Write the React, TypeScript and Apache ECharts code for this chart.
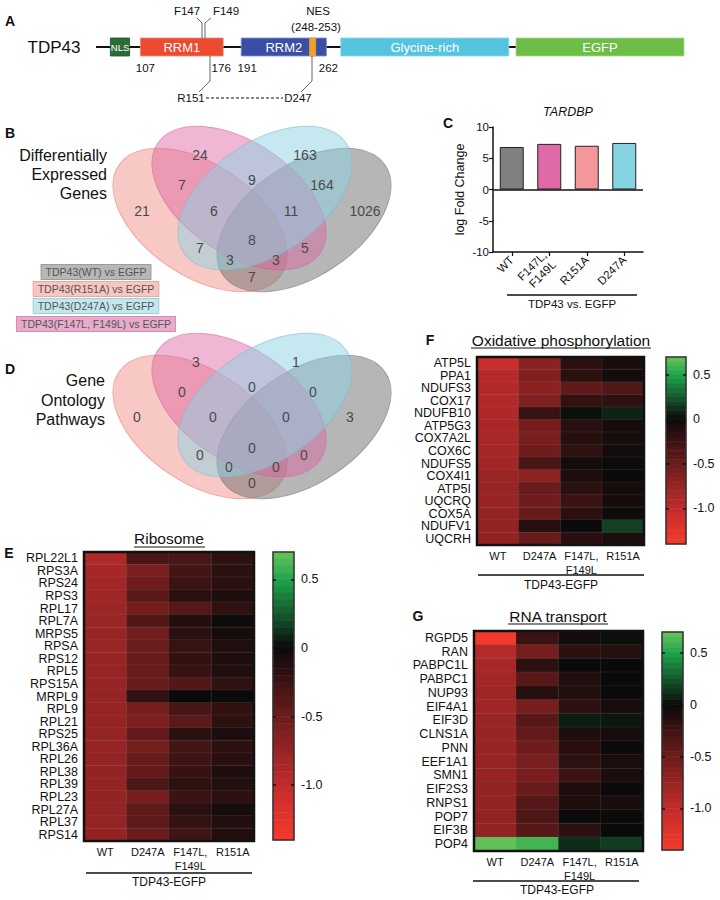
import React, { useEffect, useRef } from 'react';
import * as echarts from 'echarts';

const FONT = '"Liberation Sans", Arial, Helvetica, sans-serif';

// ---------------- Panel A : TDP43 domain map (residue units) ----------------
const DOMAIN_NAMES = ['NLS', 'RRM1', 'RRM2', '', 'Glycine-rich', 'EGFP'];
const DOMAIN_START = [82, 107, 191, 248, 274, 420];
const DOMAIN_END = [98, 176, 262, 253, 414, 560];
const BOUNDARY_LABELS = [107, 176, 191, 262];
const BACKBONE = [70, 560];

// ---------------- Panel B / D : Venn counts ----------------
const VENN_SETS = ['TDP43(WT) vs EGFP', 'TDP43(R151A) vs EGFP', 'TDP43(D247A) vs EGFP', 'TDP43(F147L, F149L) vs EGFP'];
const VENN_B_COUNTS = [21, 24, 163, 1026, 7, 9, 164, 6, 11, 8, 7, 5, 3, 3, 7];
const VENN_D_COUNTS = [0, 3, 1, 3, 0, 0, 0, 0, 0, 0, 0, 0, 0, 0, 0];

// ---------------- Panel C : TARDBP log fold change ----------------
const C_CATEGORIES = ['WT', 'F147L,\nF149L', 'R151A', 'D247A'];
const C_VALUES = [6.8, 7.3, 7.0, 7.45];

// ---------------- Heatmaps ----------------
const HM_COLUMNS = ['WT', 'D247A', 'F147L,\nF149L', 'R151A'];

const E_GENES = ['RPL22L1', 'RPS3A', 'RPS24', 'RPS3', 'RPL17', 'RPL7A', 'MRPS5', 'RPSA', 'RPS12', 'RPL5', 'RPS15A', 'MRPL9', 'RPL9', 'RPL21', 'RPS25', 'RPL36A', 'RPL26', 'RPL38', 'RPL39', 'RPL23', 'RPL27A', 'RPL37', 'RPS14'];
const E_WT = [-0.9, -0.84, -0.82, -0.81, -0.79, -0.77, -0.76, -0.76, -0.76, -0.75, -0.75, -0.75, -0.75, -0.75, -0.74, -0.75, -0.74, -0.74, -0.74, -0.74, -0.74, -0.74, -0.73];
const E_D247A = [-0.32, -0.59, -0.51, -0.42, -0.56, -0.36, -0.53, -0.49, -0.48, -0.48, -0.49, -0.2, -0.575, -0.59, -0.46, -0.55, -0.49, -0.46, -0.33, -0.575, -0.43, -0.42, -0.49];
const E_F147L = [-0.32, -0.29, -0.25, -0.17, -0.4, -0.13, -0.17, -0.23, -0.21, -0.23, -0.37, 0.0, -0.32, -0.42, -0.17, -0.29, -0.27, -0.23, -0.18, -0.25, -0.17, -0.22, -0.27];
const E_R151A = [-0.18, -0.17, -0.17, -0.11, -0.19, -0.02, -0.06, -0.1, -0.1, -0.11, -0.19, 0.0, -0.21, -0.18, -0.09, -0.18, -0.16, -0.1, -0.13, -0.17, -0.06, -0.12, -0.12];

const F_GENES = ['ATP5L', 'PPA1', 'NDUFS3', 'COX17', 'NDUFB10', 'ATP5G3', 'COX7A2L', 'COX6C', 'NDUFS5', 'COX4I1', 'ATP5I', 'UQCRQ', 'COX5A', 'NDUFV1', 'UQCRH'];
const F_WT = [-1.07, -0.94, -0.93, -0.92, -0.9, -0.86, -0.85, -0.84, -0.82, -0.77, -0.76, -0.76, -0.75, -0.73, -0.73];
const F_D247A = [-0.675, -0.61, -0.675, -0.625, -0.24, -0.56, -0.575, -0.51, -0.32, -0.69, -0.49, -0.51, -0.48, -0.14, -0.48];
const F_F147L = [-0.17, -0.17, -0.44, -0.21, 0.02, -0.16, -0.14, -0.19, -0.05, -0.1, -0.17, -0.25, -0.17, 0.0, -0.16];
const F_R151A = [-0.08, -0.05, -0.35, -0.19, 0.08, -0.07, -0.07, -0.04, -0.01, -0.01, -0.06, -0.06, -0.02, 0.17, -0.09];

const G_GENES = ['RGPD5', 'RAN', 'PABPC1L', 'PABPC1', 'NUP93', 'EIF4A1', 'EIF3D', 'CLNS1A', 'PNN', 'EEF1A1', 'SMN1', 'EIF2S3', 'RNPS1', 'POP7', 'EIF3B', 'POP4'];
const G_WT = [-1.38, -0.94, -0.85, -0.82, -0.81, -0.8, -0.77, -0.76, -0.76, -0.75, -0.75, -0.73, -0.73, -0.73, -0.72, 0.68];
const G_D247A = [-0.24, -0.56, -0.18, -0.4, -0.14, -0.575, -0.4, -0.46, -0.51, -0.575, -0.575, -0.49, -0.38, -0.34, -0.4, 0.6];
const G_F147L = [-0.05, -0.18, 0.0, -0.11, -0.13, -0.18, 0.06, -0.1, -0.16, -0.18, -0.25, -0.11, -0.11, 0.0, -0.18, 0.11];
const G_R151A = [0.02, -0.14, 0.0, 0.0, 0.0, -0.07, 0.04, -0.07, -0.01, -0.08, -0.08, -0.01, -0.08, -0.01, 0.0, 0.16];

const COLORBAR_LEVELS = [0.675, 0.625, 0.575, 0.525, 0.475, 0.425, 0.375, 0.325, 0.275, 0.225, 0.175, 0.125, 0.075, 0.025, -0.025, -0.075, -0.125, -0.175, -0.225, -0.275, -0.325, -0.375, -0.425, -0.475, -0.525, -0.575, -0.625, -0.675, -0.725, -0.775, -0.825, -0.875, -0.925, -0.975, -1.025, -1.075, -1.125, -1.175, -1.225, -1.275, -1.325, -1.375];
const COLORBAR_TICKS = [0.5, 0, -0.5, -1.0];
const SCALE_MIN = -1.4;
const SCALE_MAX = 0.7;

// ---------------- styles ----------------
const DOMAIN_COLORS = ['#2b6b35', '#ec4a31', '#3b4ea6', '#f2a02a', '#55c4df', '#6dbd47'];
const DOMAIN_EDGES = ['#1f5228', '#f08a78', '#7f8fd0', '#f2a02a', '#8ad6e8', '#a5d98a'];
const BOUNDARY_OFFSETS = [5, -2, 6, 2];
const C_COLORS = ['#808080', '#e06aa8', '#f4979b', '#86d3e2'];

const CMAP_STOPS: [number, number[]][] = [
  [-1.4, [245, 58, 44]],
  [-1.0, [192, 44, 44]],
  [-0.5, [108, 28, 28]],
  [0.0, [10, 10, 10]],
  [0.25, [20, 90, 45]],
  [0.5, [30, 165, 75]],
  [0.7, [105, 195, 90]],
];
function colorAt(v: number): string {
  for (let i = 0; i < CMAP_STOPS.length - 1; i++) {
    const [a, ca] = CMAP_STOPS[i];
    const [b, cb] = CMAP_STOPS[i + 1];
    if (v <= b || i === CMAP_STOPS.length - 2) {
      const t = Math.max(0, Math.min(1, (v - a) / (b - a)));
      const c = ca.map((x, k) => Math.round(x + (cb[k] - x) * t));
      return `rgb(${c[0]},${c[1]},${c[2]})`;
    }
  }
  return '#000';
}
const CMAP_COLORS = Array.from({ length: 43 }, (_, k) => colorAt(SCALE_MIN + k * 0.05));

// Venn geometry (pixels)
const ELLIPSE_RX = 98;
const ELLIPSE_RY = 56;
const ELLIPSE_GEOM = [
  { cx: 200, cy: 220, ang: -34, fill: 'rgba(240,135,125,0.45)', stroke: 'rgba(225,120,110,0.55)' }, // R151A
  { cx: 304, cy: 220, ang: 34, fill: 'rgba(110,110,110,0.5)', stroke: 'rgba(110,110,110,0.55)' }, // WT
  { cx: 239, cy: 198, ang: -34, fill: 'rgba(222,95,160,0.45)', stroke: 'rgba(210,90,150,0.5)' }, // F147L
  { cx: 265, cy: 198, ang: 34, fill: 'rgba(140,210,228,0.5)', stroke: 'rgba(120,190,210,0.6)' }, // D247A
];
const VENN_B_POS = [[142, 211], [200, 155], [305, 155], [365, 211], [182, 185], [252, 180], [322, 185], [214, 211], [291, 211], [252, 240], [200, 248], [305, 248], [230, 260], [276, 260], [252, 277]];
const VENN_D_POS = [[137, 417], [196, 362], [296, 362], [350, 417], [182, 392], [252, 387], [313, 392], [213, 417], [286, 417], [252, 448], [200, 455], [304, 455], [229, 467], [276, 467], [252, 483]];
const VENN_D_SHIFT = 207;
const LEGEND_BOXES = [
  { y: 272, bg: '#b7b7b7', border: '#9d9d9d' },
  { y: 289, bg: '#f7c6c2', border: '#eaa9a3' },
  { y: 306, bg: '#c3e7ef', border: '#9fd1dd' },
  { y: 324, bg: '#e9abcc', border: '#d98ab6' },
];

function text(t: string, x: number, y: number, o: any = {}) {
  const size = o.size || 12;
  return {
    type: 'text',
    x,
    y,
    z: o.z || 20,
    style: {
      text: t,
      font: `${o.italic ? 'italic ' : ''}${o.bold ? 'bold ' : ''}${size}px ${FONT}`,
      fill: o.color || '#111',
      align: o.align || 'center',
      textAlign: o.align || 'center',
      verticalAlign: 'middle',
      textVerticalAlign: 'middle',
      lineHeight: o.lineHeight,
      ...(o.extra || {}),
    },
  };
}
function line(x1: number, y1: number, x2: number, y2: number, o: any = {}) {
  return {
    type: 'line',
    z: 20,
    shape: { x1, y1, x2, y2 },
    style: { stroke: o.color || '#111', lineWidth: o.width || 1.5, lineDash: o.dash },
  };
}
function polyline(points: number[][], o: any = {}) {
  return { type: 'polyline', z: 20, shape: { points }, style: { stroke: o.color || '#555', lineWidth: o.width || 0.9, fill: 'none' } };
}

function buildOption() {
  const grid: any[] = [];
  const xAxis: any[] = [];
  const yAxis: any[] = [];
  const series: any[] = [];
  const graphic: any[] = [];
  const hmSeries: number[] = [];

  // ---------- Panel A ----------
  {
    const gi = grid.length;
    grid.push({ left: 0, top: 20, width: 720, height: 54, show: false });
    const xi = xAxis.length;
    xAxis.push({ gridIndex: gi, type: 'value', min: -10, max: 590, show: false });
    const yi = yAxis.length;
    yAxis.push({ gridIndex: gi, type: 'value', min: -1, max: 1, show: false });
    series.push({
      type: 'line', xAxisIndex: xi, yAxisIndex: yi, silent: true, z: 1,
      data: BACKBONE.map((v) => [v, 0]), symbol: 'none', lineStyle: { color: '#111', width: 2 },
    });
    series.push({
      type: 'custom', xAxisIndex: xi, yAxisIndex: yi, silent: true, z: 3,
      data: DOMAIN_START.map((s, i) => [s, DOMAIN_END[i], i]),
      renderItem: (_p: any, api: any) => {
        const i = api.value(2);
        const a = api.coord([api.value(0), 0]);
        const b = api.coord([api.value(1), 0]);
        const name = DOMAIN_NAMES[i];
        const el: any = {
          type: 'rect',
          shape: { x: a[0], y: a[1] - 9, width: b[0] - a[0], height: 18 },
          style: { fill: DOMAIN_COLORS[i], stroke: DOMAIN_EDGES[i], lineWidth: 0.8 },
        };
        if (name) {
          el.textContent = { style: { text: name, fill: '#fff', font: `${name === 'NLS' ? 9.5 : 13}px ${FONT}` } };
          el.textConfig = { position: 'inside' };
        }
        return el;
      },
    });
    series.push({
      type: 'custom', xAxisIndex: xi, yAxisIndex: yi, silent: true, z: 3,
      data: BOUNDARY_LABELS.map((v, i) => [v, i]),
      renderItem: (_p: any, api: any) => {
        const c = api.coord([api.value(0), 0]);
        return {
          type: 'text', x: c[0] + BOUNDARY_OFFSETS[api.value(1)], y: c[1] + 21,
          style: { text: String(api.value(0)), font: `11.5px ${FONT}`, fill: '#111', align: 'center', verticalAlign: 'middle' },
        };
      },
    });
    graphic.push(text('A', 10, 21, { bold: true, size: 14 }));
    graphic.push(text('TDP43', 54, 47, { size: 17 }));
    graphic.push(text('F147', 187, 11, { size: 11.5 }));
    graphic.push(text('F149', 226, 11, { size: 11.5 }));
    graphic.push(polyline([[202, 38], [202, 23], [197, 18]]));
    graphic.push(polyline([[205, 38], [205, 23], [211, 18]]));
    graphic.push(text('NES', 318, 11, { size: 11.5 }));
    graphic.push(text('(248-253)', 316, 27, { size: 11.5 }));
    graphic.push(polyline([[210, 56], [210, 81], [199, 92]]));
    graphic.push(polyline([[312, 56], [312, 81], [301, 92]]));
    graphic.push(text('R151', 191, 98, { size: 11.5 }));
    graphic.push(text('D247', 298, 98, { size: 11.5 }));
    graphic.push(line(206, 98, 283, 98, { width: 1.2, dash: [3, 2] }));
  }

  // ---------- Venn diagrams (B, D) ----------
  const drawVenn = (dy: number) => {
    ELLIPSE_GEOM.forEach((g) => {
      graphic.push({
        type: 'ellipse', x: g.cx, y: g.cy + dy, rotation: (g.ang * Math.PI) / 180, z: 5,
        shape: { cx: 0, cy: 0, rx: ELLIPSE_RX, ry: ELLIPSE_RY },
        style: { fill: g.fill, stroke: g.stroke, lineWidth: 1 },
      });
    });
  };
  drawVenn(0);
  drawVenn(VENN_D_SHIFT);
  VENN_B_COUNTS.forEach((c, i) => graphic.push(text(String(c), VENN_B_POS[i][0], VENN_B_POS[i][1], { size: 14, color: '#4a4a4a' })));
  VENN_D_COUNTS.forEach((c, i) => graphic.push(text(String(c), VENN_D_POS[i][0], VENN_D_POS[i][1], { size: 14, color: '#4a4a4a' })));
  graphic.push(text('B', 10, 133, { bold: true, size: 14 }));
  graphic.push(text('Differentially\nExpressed\nGenes', 107, 174, { size: 16, align: 'right', lineHeight: 19 }));
  graphic.push(text('D', 10, 369, { bold: true, size: 14 }));
  graphic.push(text('Gene\nOntology\nPathways', 105, 400, { size: 16, align: 'right', lineHeight: 19.5 }));
  VENN_SETS.forEach((s, i) => {
    const b = LEGEND_BOXES[i];
    graphic.push(text(s, 96, b.y, {
      size: 10.5, color: '#555',
      extra: { backgroundColor: b.bg, borderColor: b.border, borderWidth: 1, padding: [2, 4, 1, 4] },
    }));
  });

  // ---------- Panel C ----------
  {
    const gi = grid.length;
    grid.push({ left: 493, top: 127, width: 150, height: 125, show: false });
    const xi = xAxis.length;
    xAxis.push({
      gridIndex: gi, type: 'category', data: C_CATEGORIES,
      axisLine: { onZero: false, lineStyle: { color: '#111', width: 1.5 } },
      axisTick: { show: true, alignWithLabel: true, length: 4, lineStyle: { color: '#111', width: 1.2 } },
      axisLabel: { rotate: 45, fontSize: 11.5, color: '#111', fontFamily: FONT, margin: 6, lineHeight: 13, interval: 0 },
    });
    const yi = yAxis.length;
    yAxis.push({
      gridIndex: gi, type: 'value', min: -10, max: 10, interval: 5,
      axisLine: { show: true, lineStyle: { color: '#111', width: 1.5 } },
      axisTick: { show: true, length: 4, lineStyle: { color: '#111', width: 1.2 } },
      splitLine: { show: false },
      axisLabel: { fontSize: 11.5, color: '#111', margin: 4, fontFamily: FONT },
      name: 'log Fold Change', nameLocation: 'middle', nameGap: 27,
      nameTextStyle: { fontSize: 12.5, color: '#111', fontFamily: FONT },
    });
    series.push({
      type: 'bar', xAxisIndex: xi, yAxisIndex: yi, silent: true,
      data: C_VALUES.map((v, i) => ({ value: v, itemStyle: { color: C_COLORS[i] } })),
      barWidth: 24, itemStyle: { borderColor: '#222', borderWidth: 1 },
      markLine: { silent: true, symbol: 'none', label: { show: false }, lineStyle: { color: '#111', width: 1.5, type: 'solid' }, data: [{ yAxis: 0 }] },
    });
    graphic.push(text('C', 448, 123, { bold: true, size: 14 }));
    graphic.push(text('TARDBP', 568, 112, { size: 12.5, italic: true }));
    graphic.push(line(507, 295, 637, 295, { width: 1.5 }));
    graphic.push(text('TDP43 vs. EGFP', 572, 304, { size: 11.5 }));
  }

  // ---------- heatmaps ----------
  const addHeatmap = (box: number[], genes: string[], cols: number[][]) => {
    const gi = grid.length;
    grid.push({ left: box[0], top: box[1], width: box[2], height: box[3], show: true, borderColor: '#111', borderWidth: 2.5, backgroundColor: 'transparent', z: 10 });
    const xi = xAxis.length;
    xAxis.push({
      gridIndex: gi, type: 'category', data: HM_COLUMNS, position: 'bottom',
      axisLine: { show: false }, axisTick: { show: false }, splitLine: { show: false },
      axisLabel: { fontSize: 11, color: '#111', fontFamily: FONT, margin: 4, lineHeight: 14, interval: 0 },
    });
    const yi = yAxis.length;
    yAxis.push({
      gridIndex: gi, type: 'category', data: genes, inverse: true,
      axisLine: { show: false }, axisTick: { show: false }, splitLine: { show: false },
      axisLabel: { fontSize: 12.5, color: '#111', fontFamily: FONT, margin: 6, interval: 0 },
    });
    const data: number[][] = [];
    genes.forEach((_g, i) => cols.forEach((col, j) => data.push([j, i, col[i]])));
    hmSeries.push(series.length);
    series.push({
      type: 'heatmap', xAxisIndex: xi, yAxisIndex: yi, data, silent: true,
      itemStyle: { borderColor: 'rgba(150,150,150,0.22)', borderWidth: 0.6 },
    });
  };
  const addColorbar = (box: number[]) => {
    const gi = grid.length;
    grid.push({ left: box[0], top: box[1], width: box[2], height: box[3], show: true, borderColor: '#333', borderWidth: 1.5, backgroundColor: 'transparent', z: 10 });
    const xi = xAxis.length;
    xAxis.push({ gridIndex: gi, type: 'category', data: ['scale'], show: false });
    const yi = yAxis.length;
    yAxis.push({ gridIndex: gi, type: 'category', data: COLORBAR_LEVELS.map(String), inverse: true, show: false });
    const tickCommon = { show: true, inside: true, length: 3, lineStyle: { color: '#111', width: 1.5 }, customValues: COLORBAR_TICKS };
    yAxis.push({
      gridIndex: gi, type: 'value', min: SCALE_MIN, max: SCALE_MAX, position: 'right', z: 12,
      axisLine: { show: false }, splitLine: { show: false }, axisTick: tickCommon,
      axisLabel: {
        customValues: COLORBAR_TICKS,
        formatter: (v: number) => (v === 0 ? '0' : v.toFixed(1)),
        fontSize: 12.5, color: '#111', margin: 7, fontFamily: FONT,
      },
    });
    yAxis.push({
      gridIndex: gi, type: 'value', min: SCALE_MIN, max: SCALE_MAX, position: 'left', z: 12,
      axisLine: { show: false }, splitLine: { show: false }, axisTick: tickCommon, axisLabel: { show: false },
    });
    hmSeries.push(series.length);
    series.push({ type: 'heatmap', xAxisIndex: xi, yAxisIndex: yi, silent: true, data: COLORBAR_LEVELS.map((v, i) => [0, i, v]) });
  };

  // E
  addHeatmap([84, 552, 170, 289], E_GENES, [E_WT, E_D247A, E_F147L, E_R151A]);
  addColorbar([273, 552, 21, 288]);
  graphic.push(text('E', 9, 553, { bold: true, size: 14 }));
  graphic.push(text('Ribosome', 169, 538, { size: 15.5 }));
  graphic.push(line(134, 547, 205, 547, { width: 1.2 }));
  graphic.push(line(86, 873, 252, 873, { width: 1.5 }));
  graphic.push(text('TDP43-EGFP', 169, 882, { size: 12 }));

  // F
  addHeatmap([477, 357, 167, 188], F_GENES, [F_WT, F_D247A, F_F147L, F_R151A]);
  addColorbar([666, 357, 20, 187]);
  graphic.push(text('F', 430, 340, { bold: true, size: 14 }));
  graphic.push(text('Oxidative phosphorylation', 561, 340, { size: 15.5 }));
  graphic.push(line(471, 348, 651, 348, { width: 1.2 }));
  graphic.push(line(478, 575, 644, 575, { width: 1.5 }));
  graphic.push(text('TDP43-EGFP', 561, 585, { size: 12 }));

  // G
  addHeatmap([474, 631, 169, 220], G_GENES, [G_WT, G_D247A, G_F147L, G_R151A]);
  addColorbar([662, 632, 21, 218]);
  graphic.push(text('G', 418, 616, { bold: true, size: 14 }));
  graphic.push(text('RNA transport', 558, 616, { size: 15.5 }));
  graphic.push(line(508, 624, 608, 624, { width: 1.2 }));
  graphic.push(line(473, 881, 639, 881, { width: 1.5 }));
  graphic.push(text('TDP43-EGFP', 557, 890, { size: 12 }));

  return {
    animation: false,
    backgroundColor: '#fff',
    textStyle: { fontFamily: FONT },
    grid,
    xAxis,
    yAxis,
    series,
    visualMap: {
      type: 'continuous', show: false, min: SCALE_MIN, max: SCALE_MAX, dimension: 2,
      seriesIndex: hmSeries, inRange: { color: CMAP_COLORS },
    },
    graphic: { elements: graphic },
  };
}

export default function App() {
  const ref = useRef<HTMLDivElement>(null);
  useEffect(() => {
    document.body.style.margin = '0';
    const chart = echarts.init(ref.current as HTMLDivElement, null, { renderer: 'svg' });
    chart.setOption(buildOption() as any);
    return () => chart.dispose();
  }, []);
  return <div ref={ref} style={{ width: 720, height: 900, background: '#fff' }} />;
}
